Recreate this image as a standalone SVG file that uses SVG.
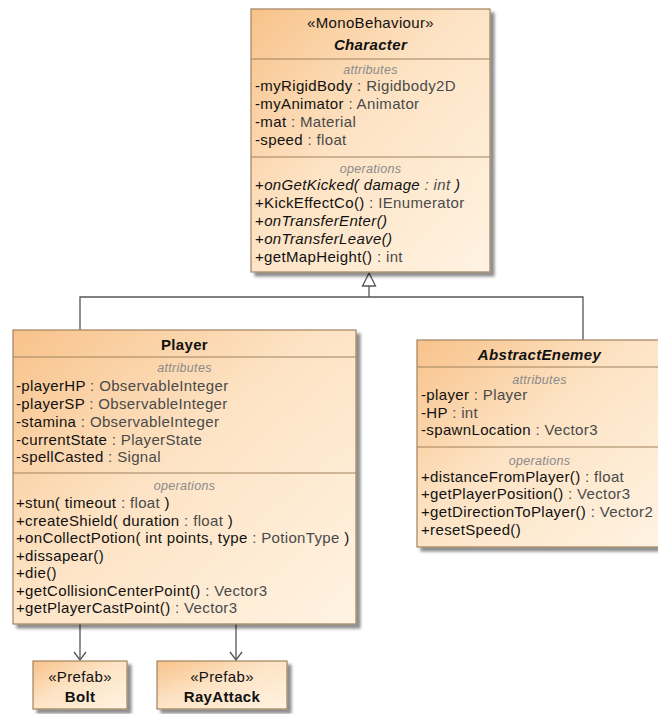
<svg xmlns="http://www.w3.org/2000/svg" width="658" height="714" viewBox="0 0 658 714">
  <defs>
    <linearGradient id="boxFill" x1="0" y1="0" x2="1" y2="1">
      <stop offset="0" stop-color="#f8c28a"/>
      <stop offset="0.45" stop-color="#fde3c4"/>
      <stop offset="1" stop-color="#fff3e2"/>
    </linearGradient>
    <filter id="shadow" x="-10%" y="-10%" width="130%" height="130%">
      <feGaussianBlur in="SourceAlpha" stdDeviation="1.8"/>
      <feOffset dx="4" dy="4" result="b"/>
      <feComponentTransfer><feFuncA type="linear" slope="0.45"/></feComponentTransfer>
      <feMerge><feMergeNode/><feMergeNode in="SourceGraphic"/></feMerge>
    </filter>
    <!-- open V arrowhead, drawn along +x so orient="auto" follows the line -->
    <marker id="openArrow" viewBox="0 0 10 14" refX="9" refY="7" markerWidth="10" markerHeight="14" markerUnits="userSpaceOnUse" orient="auto">
      <path d="M1,1 L9,7 L1,13" fill="none" stroke="#555" stroke-width="1.3"/>
    </marker>
  </defs>
  <style>
    text { font-family: "Liberation Sans", Arial, sans-serif; font-size: 15px; fill: #111; letter-spacing: 0.35px; }
    .box { fill: url(#boxFill); stroke: #a0825f; stroke-width: 1.2; filter: url(#shadow); }
    .sep { stroke: #a0825f; stroke-width: 1.2; }
    .title { font-weight: bold; text-anchor: middle; }
    .abs { font-style: italic; }
    .stereo { text-anchor: middle; }
    .label { font-size: 12.5px; font-style: italic; fill: #8a8a8a; text-anchor: middle; letter-spacing: 0.3px; }
    .ty { fill: #4a4a4a; }
    .op { font-style: italic; }
    .edge { fill: none; stroke: #555; stroke-width: 1.3; }
  </style>

  <!-- connectors -->
  <g id="connectors">
    <!-- generalization: Player / AbstractEnemey to Character -->
    <polyline class="edge" points="80,330 80,297 583,297 583,340"/>
    <line class="edge" x1="369" y1="297" x2="369" y2="286"/>
    <polygon points="369,273 362.5,286 375.5,286" fill="#fff" stroke="#555" stroke-width="1.3"/>
    <!-- dependencies: Player to prefabs -->
    <line class="edge" x1="80" y1="624" x2="80" y2="660" marker-end="url(#openArrow)"/>
    <line class="edge" x1="236" y1="624" x2="236" y2="660" marker-end="url(#openArrow)"/>
  </g>

  <!-- Character -->
  <g id="character">
    <rect class="box" x="251" y="9" width="239" height="263"/>
    <line class="sep" x1="251" y1="59" x2="490" y2="59"/>
    <line class="sep" x1="251" y1="157" x2="490" y2="157"/>
    <text class="stereo" x="370.5" y="28">«MonoBehaviour»</text>
    <text class="title abs" x="370.5" y="50">Character</text>
    <text class="label" x="370.5" y="74">attributes</text>
    <text x="255" y="91">-myRigidBody <tspan class="ty">: Rigidbody2D</tspan></text>
    <text x="255" y="109">-myAnimator <tspan class="ty">: Animator</tspan></text>
    <text x="255" y="127">-mat <tspan class="ty">: Material</tspan></text>
    <text x="255" y="145">-speed <tspan class="ty">: float</tspan></text>
    <text class="label" x="370.5" y="173">operations</text>
    <text x="255" y="190">+<tspan class="op">onGetKicked( damage <tspan class="ty">: int</tspan> )</tspan></text>
    <text x="255" y="208">+KickEffectCo() <tspan class="ty">: IEnumerator</tspan></text>
    <text x="255" y="226">+<tspan class="op">onTransferEnter()</tspan></text>
    <text x="255" y="244">+<tspan class="op">onTransferLeave()</tspan></text>
    <text x="255" y="262">+getMapHeight() <tspan class="ty">: int</tspan></text>
  </g>

  <!-- Player -->
  <g id="player">
    <rect class="box" x="13" y="330" width="343" height="294"/>
    <line class="sep" x1="13" y1="357" x2="356" y2="357"/>
    <line class="sep" x1="13" y1="473" x2="356" y2="473"/>
    <text class="title" x="184.5" y="350">Player</text>
    <text class="label" x="184.5" y="372">attributes</text>
    <text x="16" y="391">-playerHP <tspan class="ty">: ObservableInteger</tspan></text>
    <text x="16" y="409">-playerSP <tspan class="ty">: ObservableInteger</tspan></text>
    <text x="16" y="427">-stamina <tspan class="ty">: ObservableInteger</tspan></text>
    <text x="16" y="445">-currentState <tspan class="ty">: PlayerState</tspan></text>
    <text x="16" y="462">-spellCasted <tspan class="ty">: Signal</tspan></text>
    <text class="label" x="184.5" y="490">operations</text>
    <text x="16" y="508">+stun( timeout <tspan class="ty">: float</tspan> )</text>
    <text x="16" y="525.5">+createShield( duration <tspan class="ty">: float</tspan> )</text>
    <text x="16" y="543">+onCollectPotion( int points, type <tspan class="ty">: PotionType</tspan> )</text>
    <text x="16" y="560.5">+dissapear()</text>
    <text x="16" y="578">+die()</text>
    <text x="16" y="595.5">+getCollisionCenterPoint() <tspan class="ty">: Vector3</tspan></text>
    <text x="16" y="613">+getPlayerCastPoint() <tspan class="ty">: Vector3</tspan></text>
  </g>

  <!-- AbstractEnemey -->
  <g id="abstract-enemey">
    <rect class="box" x="417" y="340" width="245" height="207"/>
    <line class="sep" x1="417" y1="367" x2="662" y2="367"/>
    <line class="sep" x1="417" y1="447" x2="662" y2="447"/>
    <text class="title abs" x="539.5" y="360">AbstractEnemey</text>
    <text class="label" x="539.5" y="384">attributes</text>
    <text x="421" y="400">-player <tspan class="ty">: Player</tspan></text>
    <text x="421" y="418">-HP <tspan class="ty">: int</tspan></text>
    <text x="421" y="435">-spawnLocation <tspan class="ty">: Vector3</tspan></text>
    <text class="label" x="539.5" y="465">operations</text>
    <text x="421" y="482">+distanceFromPlayer() <tspan class="ty">: float</tspan></text>
    <text x="421" y="499">+getPlayerPosition() <tspan class="ty">: Vector3</tspan></text>
    <text x="421" y="517">+getDirectionToPlayer() <tspan class="ty">: Vector2</tspan></text>
    <text x="421" y="535">+resetSpeed()</text>
  </g>

  <!-- Bolt -->
  <g id="bolt">
    <rect class="box" x="33" y="661" width="94" height="48"/>
    <text class="stereo" x="80" y="682">«Prefab»</text>
    <text class="title" x="80" y="702">Bolt</text>
  </g>

  <!-- RayAttack -->
  <g id="ray-attack">
    <rect class="box" x="157" y="661" width="130" height="48"/>
    <text class="stereo" x="222" y="682">«Prefab»</text>
    <text class="title" x="222" y="702">RayAttack</text>
  </g>
</svg>
